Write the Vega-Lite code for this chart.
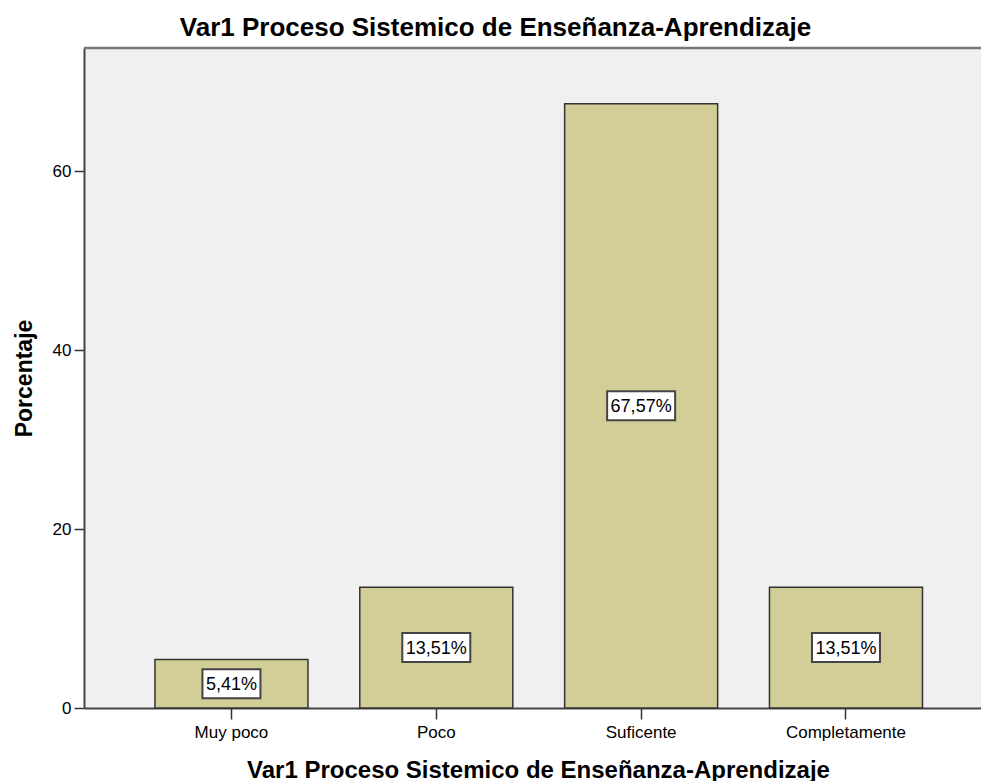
{
  "$schema": "https://vega.github.io/schema/vega-lite/v6.json",
  "width": 897,
  "height": 660,
  "autosize": {"type": "none"},
  "padding": {"left": 84, "top": 48, "right": 0, "bottom": 73},
  "background": "white",
  "title": {
    "text": "Var1 Proceso Sistemico de Enseñanza-Aprendizaje",
    "font": "Liberation Sans",
    "fontSize": 26,
    "fontWeight": "bold",
    "color": "#000000",
    "anchor": "middle",
    "dx": -37,
    "baseline": "alphabetic",
    "offset": -15
  },
  "data": {
    "values": [
      {"categoria": "Muy poco", "pct": 5.41},
      {"categoria": "Poco", "pct": 13.51},
      {"categoria": "Suficente", "pct": 67.57},
      {"categoria": "Completamente", "pct": 13.51}
    ]
  },
  "transform": [
    {"calculate": "replace(format(datum.pct, '.2f'), '.', ',') + '%'", "as": "etiqueta"},
    {"calculate": "datum.pct / 2", "as": "medio"}
  ],
  "layer": [
    {
      "mark": {"type": "bar", "fill": "#D3CE97", "stroke": "#333333", "strokeWidth": 1.5},
      "encoding": {
        "x": {
          "field": "categoria",
          "type": "nominal",
          "sort": null,
          "scale": {"paddingInner": 0.253, "paddingOuter": 0.316, "align": 0.548},
          "axis": {
            "title": "Var1 Proceso Sistemico de Enseñanza-Aprendizaje",
            "titleFont": "Liberation Sans",
            "titleFontSize": 24,
            "titleFontWeight": "bold",
            "titleColor": "#000000",
            "titleBaseline": "alphabetic",
            "titleY": 69,
            "titleX": 454,
            "labelAngle": 0,
            "labelFont": "Liberation Sans",
            "labelFontSize": 17,
            "labelColor": "#000000",
            "labelBaseline": "alphabetic",
            "labelPadding": 18,
            "tickSize": 11,
            "tickColor": "#333333",
            "tickWidth": 1.5,
            "domainColor": "#444444",
            "domainWidth": 2,
            "grid": false
          }
        },
        "y": {
          "field": "pct",
          "type": "quantitative",
          "scale": {"domain": [0, 73.8], "nice": false, "zero": true},
          "axis": {
            "title": "Porcentaje",
            "titleFont": "Liberation Sans",
            "titleFontSize": 23,
            "titleFontWeight": "bold",
            "titleColor": "#000000",
            "titleAngle": 270,
            "titleBaseline": "alphabetic",
            "titleAlign": "center",
            "titleX": -53,
            "titleY": 330,
            "values": [0, 20, 40, 60],
            "labelFont": "Liberation Sans",
            "labelFontSize": 17,
            "labelColor": "#000000",
            "labelPadding": 3,
            "tickSize": 10,
            "tickColor": "#333333",
            "tickWidth": 1.5,
            "domainColor": "#444444",
            "domainWidth": 2,
            "grid": false
          }
        }
      }
    },
    {
      "mark": {"type": "point", "filled": true, "fill": "#FFFFFF", "stroke": "#444444", "strokeWidth": 2, "opacity": 1},
      "encoding": {
        "x": {"field": "categoria", "type": "nominal", "sort": null},
        "y": {"field": "medio", "type": "quantitative"},
        "shape": {
          "condition": {"test": "datum.pct < 10", "value": "M-1,-0.5H1V0.5H-1Z"},
          "value": "M-1,-0.4265H1V0.4265H-1Z"
        },
        "size": {
          "condition": {"test": "datum.pct < 10", "value": 3364},
          "value": 4624
        }
      }
    },
    {
      "mark": {"type": "text", "font": "Liberation Sans", "fontSize": 18, "color": "#000000", "align": "center", "baseline": "middle", "dy": 1},
      "encoding": {
        "x": {"field": "categoria", "type": "nominal", "sort": null},
        "y": {"field": "medio", "type": "quantitative"},
        "text": {"field": "etiqueta", "type": "nominal"}
      }
    },
    {
      "data": {"values": [{"tope": 73.8}]},
      "mark": {"type": "rule", "color": "#777777", "strokeWidth": 2.5},
      "encoding": {
        "y": {"field": "tope", "type": "quantitative"}
      }
    }
  ],
  "config": {
    "view": {"fill": "#F0F0F0", "stroke": null}
  }
}
